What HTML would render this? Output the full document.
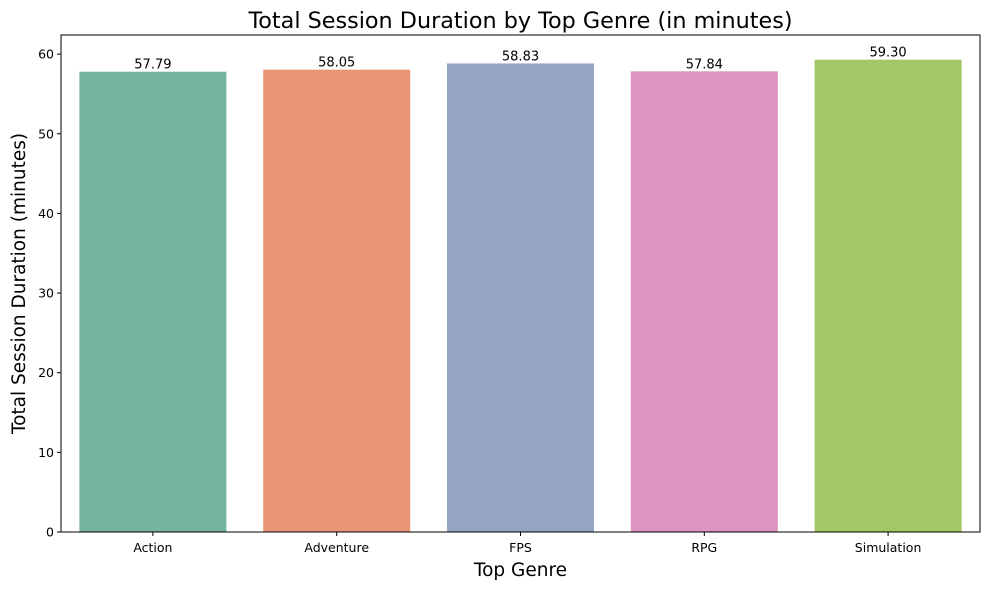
<!DOCTYPE html>
<html><head><meta charset="utf-8"><style>
body{margin:0;background:#fff;font-family:"Liberation Sans","DejaVu Sans",sans-serif;}
svg text{font-family:"DejaVu Sans","Liberation Sans",sans-serif;}
</style></head><body>
<svg id="chart" width="989" height="590"></svg>
<script>
const categories=["Action","Adventure","FPS","RPG","Simulation"];
const values=[57.79,58.05,58.83,57.84,59.30];
const valueLabels=["57.79","58.05","58.83","57.84","59.30"];
const yTicks=[0,10,20,30,40,50,60];
const colors=["#75b5a0","#e99675","#94a4c3","#dc95c0","#a2c865"];
const L=61,R=980,T=35,B=532,yMax=62.4;
const svg=document.getElementById('chart');
const NS="http://www.w3.org/2000/svg";
function y(v){return B-(v/yMax)*(B-T);}
const band=(R-L)/categories.length;
function xc(i){return L+band*(i+0.5);}
function mk(tag,attrs,txt){const e=document.createElementNS(NS,tag);for(const k in attrs)e.setAttribute(k,attrs[k]);if(txt!==undefined)e.textContent=txt;svg.appendChild(e);return e;}
const title=mk('text',{x:(L+R)/2,y:28,'text-anchor':'middle','font-size':22.3,fill:'#000'},'Total Session Duration by Top Genre (in minutes)');


categories.forEach((c,i)=>{
  const w=band*0.8;
  const r=mk('rect',{x:xc(i)-w/2,y:y(values[i]),width:w,height:B-y(values[i]),fill:colors[i]});
  
  
  const t=mk('text',{x:xc(i),y:y(values[i])-3,'text-anchor':'middle','font-size':13,fill:'#000'},valueLabels[i]);
  
  
  mk('line',{x1:xc(i),x2:xc(i),y1:B,y2:B+4,stroke:'#000'});
  const xl=mk('text',{x:xc(i),y:B+20,'text-anchor':'middle','font-size':12.5,fill:'#000'},c);
  
  
});
yTicks.forEach(v=>{
  mk('line',{x1:L-4,x2:L,y1:y(v),y2:y(v),stroke:'#000'});
  const t=mk('text',{x:L-7,y:y(v)+4.5,'text-anchor':'end','font-size':12.5,fill:'#000'},String(v));
  
  
});
const frame=mk('rect',{x:L,y:T,width:R-L,height:B-T,fill:'none',stroke:'#000','stroke-width':1});


const xt=mk('text',{x:(L+R)/2,y:576,'text-anchor':'middle','font-size':18.5,fill:'#000'},'Top Genre');


const yt=mk('text',{x:0,y:0,'text-anchor':'middle','font-size':18.5,fill:'#000',transform:`translate(25,${(T+B)/2}) rotate(-90)`},'Total Session Duration (minutes)');


</script>
</body></html>
